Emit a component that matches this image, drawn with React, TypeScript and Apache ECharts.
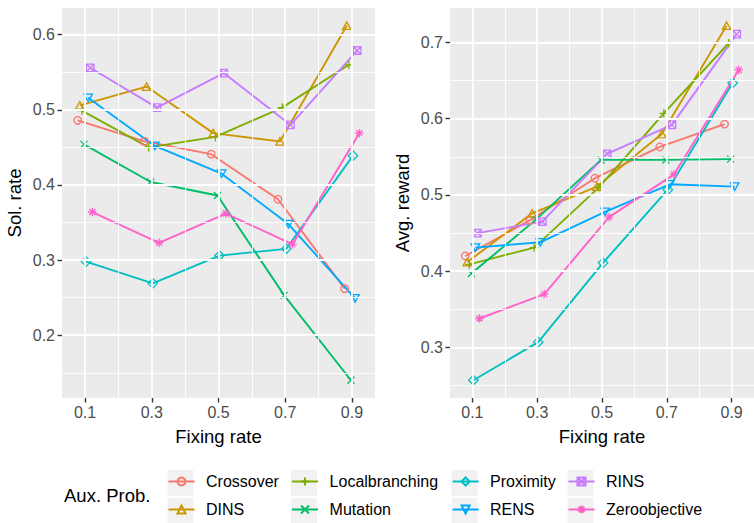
import React, { useEffect, useRef } from "react";
import * as echarts from "echarts";

const fixingRates = [0.1, 0.3, 0.5, 0.7, 0.9];
const methods = ["Crossover", "DINS", "Localbranching", "Mutation", "Proximity", "RENS", "RINS", "Zeroobjective"];
const colors = ["#F8766D", "#CD9600", "#7CAE00", "#00BE67", "#00BFC4", "#00A9FF", "#C77CFF", "#FF61CC"];

// Sol. rate (left panel)
const solCrossover = [0.486, 0.458, 0.441, 0.381, 0.262];
const solDINS = [0.506, 0.531, 0.469, 0.458, 0.612];
const solLocalbranching = [0.499, 0.45, 0.464, 0.503, 0.56];
const solMutation = [0.454, 0.404, 0.386, 0.253, 0.14];
const solProximity = [0.298, 0.269, 0.306, 0.315, 0.439];
const solRENS = [0.516, 0.452, 0.415, 0.348, 0.249];
const solRINS = [0.556, 0.503, 0.549, 0.48, 0.579];
const solZeroobjective = [0.364, 0.323, 0.362, 0.321, 0.469];

// Avg. reward (right panel)
const rewCrossover = [0.42, 0.467, 0.522, 0.563, 0.593];
const rewDINS = [0.412, 0.476, 0.511, 0.58, 0.722];
const rewLocalbranching = [0.409, 0.431, 0.51, 0.607, 0.699];
const rewMutation = [0.397, 0.468, 0.546, 0.546, 0.547];
const rewProximity = [0.257, 0.307, 0.411, 0.507, 0.647];
const rewRENS = [0.431, 0.438, 0.478, 0.514, 0.511];
const rewRINS = [0.45, 0.465, 0.554, 0.592, 0.711];
const rewZeroobjective = [0.338, 0.37, 0.471, 0.527, 0.664];

const leftTicks = [0.2, 0.3, 0.4, 0.5, 0.6];
const rightTicks = [0.3, 0.4, 0.5, 0.6, 0.7];

const solRate = [solCrossover, solDINS, solLocalbranching, solMutation, solProximity, solRENS, solRINS, solZeroobjective];
const avgReward = [rewCrossover, rewDINS, rewLocalbranching, rewMutation, rewProximity, rewRENS, rewRINS, rewZeroobjective];

const FONT = "Liberation Sans, Arial, Helvetica, sans-serif";
const symbols = [
  "circle",
  "triangle",
  "path://M5,0V10M0,5H10",
  "path://M0,0L10,10M10,0L0,10",
  "diamond",
  "triangle",
  "path://M0,0H10V10H0ZM0,0L10,10M10,0L0,10",
  "path://M5,0V10M0,5H10M1.5,1.5L8.5,8.5M8.5,1.5L1.5,8.5",
];
const symbolSizes: any[] = [7.5, [8.5, 7.5], 8.5, 7, 9.5, [8.5, 7.5], 7.5, 8.5];
const symbolRotates = [0, 0, 0, 0, 0, 180, 0, 0];

const DODGE = 0.05; // position_dodge width

function expandRange(arrs: number[][]) {
  const all = arrs.flat();
  const mn = Math.min(...all);
  const mx = Math.max(...all);
  const r = mx - mn;
  return [mn - 0.05 * r, mx + 0.05 * r];
}

export default function App() {
  const ref = useRef<HTMLDivElement>(null);
  useEffect(() => {
    if (!ref.current) return;
    const chart = echarts.init(ref.current, undefined, { renderer: "svg" });
    const n = methods.length;
    const offsets = methods.map((_, i) => (i - (n - 1) / 2) * (DODGE / n));

    const leftRange = expandRange(solRate);
    const rightRange = expandRange(avgReward);

    const gridLineSeries = (g: number, majorY: number[], minorY: number[]) => ({
      type: "line",
      xAxisIndex: g,
      yAxisIndex: g,
      data: [],
      silent: true,
      z: 1,
      markLine: {
        silent: true,
        symbol: ["none", "none"],
        label: { show: false },
        emphasis: { disabled: true },
        animation: false,
        lineStyle: { color: "#FFFFFF", type: "solid", width: 1.8 },
        data: [
          ...fixingRates.map((v) => ({ xAxis: v, lineStyle: { color: "#FFFFFF", type: "solid", width: 1.8 } })),
          ...[0.2, 0.4, 0.6, 0.8].map((v) => ({ xAxis: v, lineStyle: { color: "#FFFFFF", type: "solid", width: 0.9 } })),
          ...majorY.map((v) => ({ yAxis: v, lineStyle: { color: "#FFFFFF", type: "solid", width: 1.8 } })),
          ...minorY.map((v) => ({ yAxis: v, lineStyle: { color: "#FFFFFF", type: "solid", width: 0.9 } })),
        ],
      },
    });

    const dataSeries = (g: number, values: number[][]) =>
      methods.map((name, i) => ({
        type: "line",
        name,
        xAxisIndex: g,
        yAxisIndex: g,
        z: 3,
        data: fixingRates.map((x, k) => [x + offsets[i], values[i][k]]),
        symbol: symbols[i],
        symbolSize: symbolSizes[i],
        symbolRotate: symbolRotates[i],
        lineStyle: { color: colors[i], width: 1.9 },
        itemStyle: { color: "transparent", borderColor: colors[i], borderWidth: 1.3 },
        emphasis: { disabled: true },
      }));

    const xAxisBase = (g: number) => ({
      type: "value",
      gridIndex: g,
      min: 0.031,
      max: 0.969,
      axisLine: { show: false },
      axisTick: { show: true, length: 4.5, customValues: fixingRates, lineStyle: { color: "#333333", width: 1.4 } },
      axisLabel: {
        customValues: fixingRates,
        color: "#4D4D4D",
        fontSize: 16,
        fontFamily: FONT,
        margin: 6,
        formatter: (v: number) => v.toFixed(1),
      },
      splitLine: { show: false },
      name: "Fixing rate",
      nameLocation: "middle",
      nameGap: 29,
      nameTextStyle: { color: "#000000", fontSize: 18.5, fontFamily: FONT },
    });

    const yAxisBase = (g: number, range: number[], ticks: number[], name: string) => ({
      type: "value",
      gridIndex: g,
      min: range[0],
      max: range[1],
      axisLine: { show: false },
      axisTick: { show: true, length: 4.5, customValues: ticks, lineStyle: { color: "#333333", width: 1.4 } },
      axisLabel: {
        customValues: ticks,
        color: "#4D4D4D",
        fontSize: 16,
        fontFamily: FONT,
        margin: 7,
        formatter: (v: number) => v.toFixed(1),
      },
      splitLine: { show: false },
      name,
      nameLocation: "middle",
      nameGap: 38,
      nameRotate: 90,
      nameTextStyle: { color: "#000000", fontSize: 18.5, fontFamily: FONT },
    });

    const boxLefts = [167.5, 291, 451.6, 567.5];
    const textStarts = [205, 328.6, 489, 605];
    const rowCenters = [483, 511];
    const BOX = 26;
    const ICON_W = 26;

    const legends: any[] = [];
    const rects: any[] = [];
    methods.forEach((name, i) => {
      const col = Math.floor(i / 2);
      const row = i % 2;
      const legLeft = boxLefts[col] + (BOX - ICON_W) / 2;
      const padLeft = textStarts[col] - (legLeft + ICON_W + 5);
      legends.push({
        data: [name],
        left: legLeft,
        top: rowCenters[row] - 9.5,
        orient: "horizontal",
        itemWidth: ICON_W,
        itemHeight: 10,
        padding: 0,
        selectedMode: false,
        textStyle: { fontSize: 16, color: "#000000", fontFamily: FONT, padding: [0, 0, 0, padLeft] },
      });
      rects.push({
        type: "rect",
        shape: { x: boxLefts[col], y: rowCenters[row] - BOX / 2, width: BOX, height: BOX },
        style: { fill: "#F2F2F2" },
        z: 0,
        silent: true,
      });
    });

    const option: any = {
      animation: false,
      backgroundColor: "#FFFFFF",
      grid: [
        { left: 62, top: 8, width: 313, height: 390, show: true, backgroundColor: "#EBEBEB", borderWidth: 0 },
        { left: 450, top: 8, width: 313, height: 390, show: true, backgroundColor: "#EBEBEB", borderWidth: 0 },
      ],
      xAxis: [xAxisBase(0), xAxisBase(1)],
      yAxis: [
        yAxisBase(0, leftRange, leftTicks, "Sol. rate"),
        yAxisBase(1, rightRange, rightTicks, "Avg. reward"),
      ],
      legend: legends,
      graphic: [
        ...rects,
        {
          type: "text",
          left: 64,
          top: 486,
          silent: true,
          style: { text: "Aux. Prob.", fontSize: 18.5, fontFamily: FONT, fill: "#000000" },
        },
      ],
      series: [
        gridLineSeries(0, leftTicks, [0.15, 0.25, 0.35, 0.45, 0.55]),
        gridLineSeries(1, rightTicks, [0.25, 0.35, 0.45, 0.55, 0.65]),
        ...dataSeries(0, solRate),
        ...dataSeries(1, avgReward),
      ],
    };
    chart.setOption(option);
    return () => chart.dispose();
  }, []);
  return <div ref={ref} style={{ position: "fixed", left: 0, top: 0, width: 754, height: 523 }} />;
}
